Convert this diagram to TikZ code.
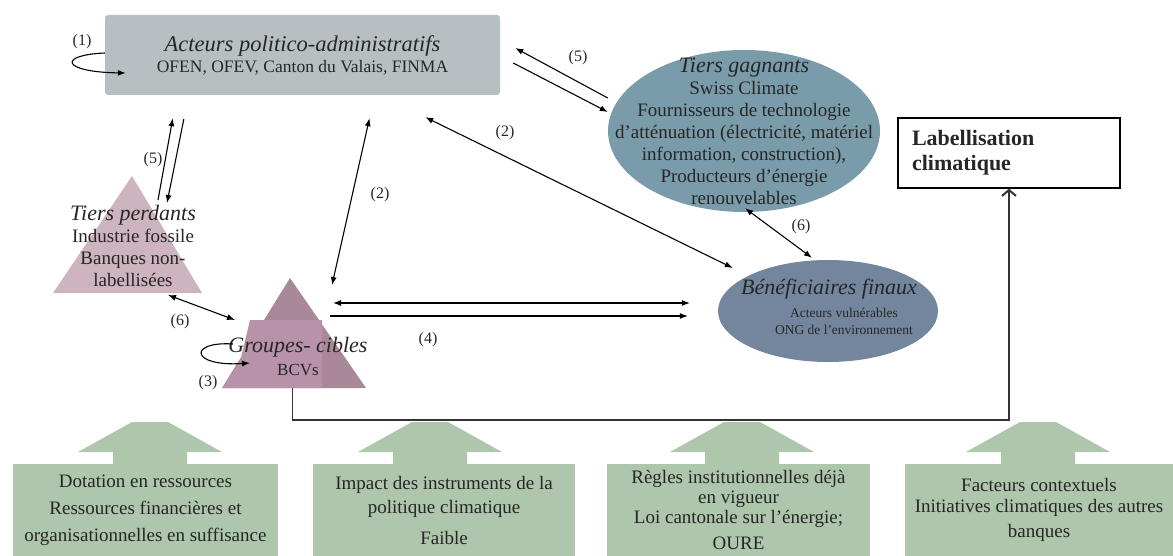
\documentclass[tikz,border=0pt]{standalone}
\usepackage{fontspec}
\setmainfont{Liberation Serif}
\usetikzlibrary{calc,arrows.meta,shapes.geometric}

\definecolor{actfill}{RGB}{184,191,195}
\definecolor{gagnfill}{RGB}{122,155,170}
\definecolor{benefill}{RGB}{116,134,158}
\definecolor{perdfill}{RGB}{206,180,190}
\definecolor{grpfill}{RGB}{168,136,153}
\definecolor{grpdeep}{RGB}{184,146,168}
\definecolor{factfill}{RGB}{174,198,172}

\begin{document}
\begin{tikzpicture}[x=1pt,y=-1pt,
    every node/.style={text=black!85},
    arr/.style={line width=1.1pt, -{Latex[length=8pt,width=6pt]}},
    darr/.style={line width=1.1pt, {Latex[length=8pt,width=6pt]}-{Latex[length=8pt,width=6pt]}},
    num/.style={font=\fontsize{16}{18}\selectfont},
    body/.style={font=\fontsize{19}{22}\selectfont, align=center},
    fact/.style={fill=factfill, minimum height=92, inner sep=0pt,
      font=\fontsize{19}{21}\selectfont, align=center}]

  \useasboundingbox (0,0) rectangle (1173,556);

  % ---- actors and third parties ----
  \node[fill=actfill, rounded corners=3pt, minimum width=395, minimum height=80,
    inner sep=0, align=center, font=\fontsize{17.5}{21}\selectfont] (act) at (302.5,55)
    {{\fontsize{22.5}{22}\selectfont\itshape Acteurs politico-administratifs}\\
     OFEN, OFEV, Canton du Valais, FINMA};

  \node[ellipse, fill=gagnfill, minimum width=272, minimum height=162, inner sep=0]
    (gagn) at (744,131) {};
  \node[body] (gagntxt) at (gagn.center)
    {{\fontsize{22}{22}\selectfont\itshape Tiers gagnants}\\ Swiss Climate\\
     Fournisseurs de technologie\\ d'atténuation (électricité, matériel\\
     information, construction),\\ Producteurs d'énergie\\ renouvelables};

  \node[draw, line width=1.3pt, minimum width=222, minimum height=70, text width=194,
    align=left, font=\fontsize{22}{25}\selectfont\bfseries] (lab) at (1009,153)
    {Labellisation\\ climatique};

  \fill[perdfill] (132,176) coordinate (perdtop) -- (202,293) coordinate (perdright)
    -- (53,293) coordinate (perdleft) -- cycle;
  \node[body] (perd) at (133,246)
    {{\fontsize{22}{22}\selectfont\itshape Tiers perdants}\\ Industrie fossile\\
     Banques non-\\ labellisées};

  \fill[grpfill] (290,278) coordinate (grptop) -- (366,388) coordinate (grpright)
    -- (222,388) coordinate (grpleft) -- cycle;
  \fill[grpdeep] (250,320) -- (322,320) -- (322,388) -- (222,388) -- (240,362) -- cycle;
  \node[align=center, font=\fontsize{17}{23}\selectfont] (grp) at (298,356)
    {{\fontsize{22}{22}\selectfont\itshape Groupes- cibles}\\ BCVs};

  \node[ellipse, fill=benefill, minimum width=220, minimum height=102, inner sep=0]
    (bene) at (828,311) {};
  \node[align=center, font=\fontsize{13.5}{17}\selectfont] (benetxt) at (829,307)
    {{\fontsize{22}{22}\selectfont\itshape Bénéficiaires finaux}\\[6pt]
     \hspace*{30pt}Acteurs vulnérables\\ \hspace*{30pt}ONG de l'environnement};

  % ---- factors ----
  \foreach \cx in {150,430,742,1038} {
    \fill[factfill] (\cx-37,466) -- (\cx-37,452) -- (\cx-72,452) -- (\cx-18,422)
      -- (\cx+18,422) -- (\cx+72,452) -- (\cx+37,452) -- (\cx+37,466) -- cycle;
  }
  \node[fact, minimum width=265] (dot) at (145.5,510)
    {Dotation en ressources\\[6pt] Ressources financières et\\[6pt]
     organisationnelles en suffisance};
  \node[fact, minimum width=262] (imp) at (444,510)
    {Impact des instruments de la\\[3pt] politique climatique\\[10pt] Faible};
  \node[fact, minimum width=263] (reg) at (738.5,510)
    {Règles institutionnelles déjà\\[-1pt] en vigueur\\[-1pt]
     Loi cantonale sur l'énergie;\\[5pt] OURE};
  \node[fact, minimum width=268] (ctx) at (1039,510)
    {Facteurs contextuels\\ Initiatives climatiques des autres\\[4pt] banques};

  % ---- relations ----
  \draw[arr] ($(act.west)+(0,-2)$) .. controls +(-47,2) and +(-65,-1) .. ($(act.west)+(21,18)$);
  \node[num] (one) at (82,42) {(1)};

  \draw[arr] ($(gagn.west)+(0,-33)$) -- ($(act.east)+(15,-7)$);
  \draw[arr] ($(act.east)+(13,8)$) -- ($(gagn.west)+(0,-19)$);
  \node[num] (fiveR) at (578,58) {(5)};

  \draw[darr] ($(act.south east)+(-75,22)$) -- ($(bene.west)+(15,-43)$);
  \node[num] (twoR) at (505,133) {(2)};

  \draw[darr] ($(act.south)+(67,23)$) -- ($(grptop)+(42,7)$);
  \node[num] (twoL) at (380,195) {(2)};

  \draw[arr] ($(perdtop)+(26,24)$) -- ($(act.south west)+(68,23)$);
  \draw[arr] ($(act.south west)+(79,24)$) -- ($(perdtop)+(35,27)$);
  \node[num] (fiveL) at (153,160) {(5)};

  \draw[darr] ($(perdright)+(-34,2)$) -- ($(grptop)+(-55,42)$);
  \node[num] (sixL) at (180,322) {(6)};

  \draw[arr] ($(grptop)+(-57,66)$) .. controls +(-45,-3) and +(-60,4) .. ($(grptop)+(-40,85)$);
  \node[num] (three) at (208,383) {(3)};

  \draw[darr] ($(grptop)+(43,25)$) -- ($(bene.west)+(-28,-8)$);
  \draw[arr] ($(grptop)+(40,38)$) -- ($(bene.west)+(-30,5)$);
  \node[num] (four) at (428,340) {(4)};

  \draw[darr] ($(gagn.south)+(1,-4)$) -- ($(bene.north)+(-16,-2)$);
  \node[num] (sixR) at (801,227) {(6)};

  % ---- towards the label ----
  \draw[line width=1.3pt, black!80, -{Straight Barb[length=6pt,width=14pt,line width=2pt]}]
    ($(grpleft)!0.49!(grpright)$) -- ++(0,32) -| (lab.south);

\end{tikzpicture}
\end{document}
